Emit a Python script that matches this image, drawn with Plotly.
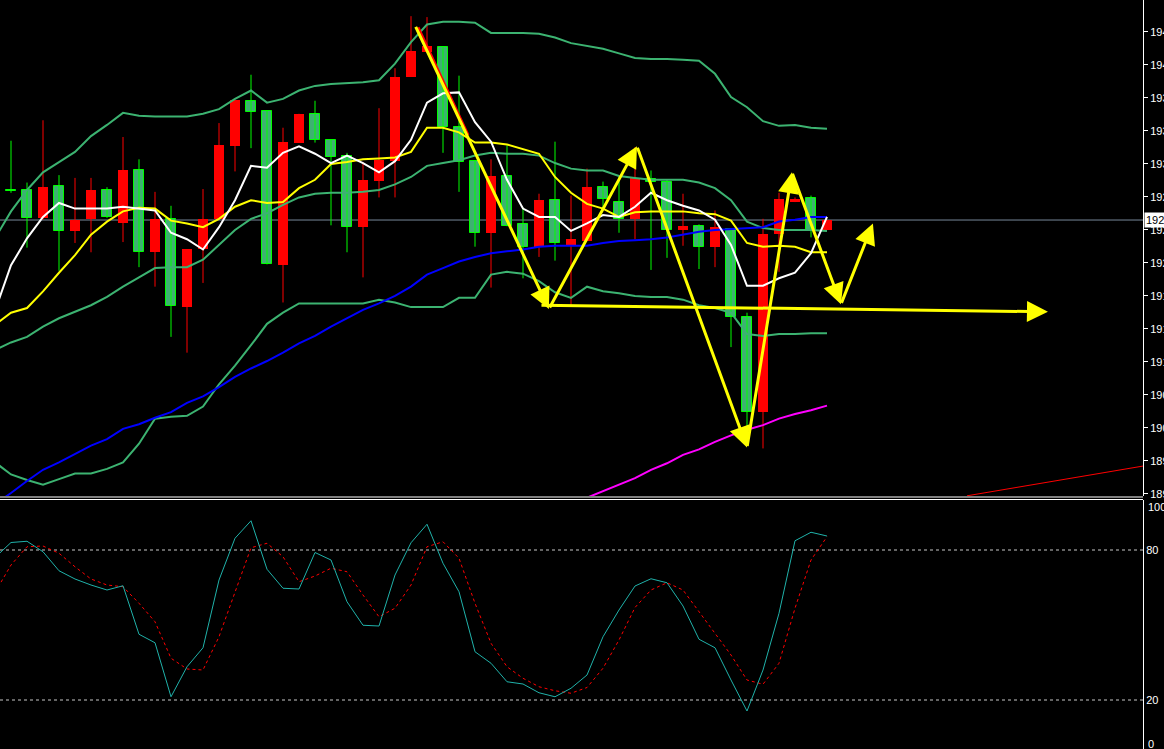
import plotly.graph_objects as go

# ---------------- data ----------------
K = list(range(53))  # bar index

OPEN = [1917.7, 1928.5, 1928.5, 1925.5, 1928.9, 1924.1, 1925.4, 1928.5, 1924.9, 1930.6,
        1921.8, 1925.4, 1915.9, 1922.1, 1925.4, 1933.2, 1938.1, 1937.0, 1920.4, 1933.6,
        1936.7, 1933.9, 1932.2, 1924.5, 1929.5, 1931.6, 1940.7, 1943.3, 1943.9, 1935.3,
        1931.6, 1923.9, 1930.0, 1924.8, 1922.4, 1927.4, 1922.6, 1923.0, 1928.8, 1927.2,
        1925.4, 1929.7, 1929.4, 1924.2, 1924.6, 1922.4, 1924.3, 1914.8, 1904.6, 1923.8,
        1927.3, 1927.6, 1924.2]
HIGH = [1929.0, 1933.8, 1929.3, 1936.0, 1930.1, 1929.8, 1929.8, 1928.8, 1934.2, 1931.8,
        1928.3, 1926.8, 1922.1, 1928.6, 1935.7, 1938.2, 1940.9, 1937.0, 1935.2, 1936.7,
        1938.1, 1933.9, 1932.5, 1931.5, 1937.3, 1941.6, 1947.2, 1947.1, 1943.9, 1940.8,
        1931.6, 1931.8, 1933.3, 1926.6, 1928.1, 1933.7, 1927.9, 1930.8, 1929.4, 1929.9,
        1933.1, 1930.6, 1929.6, 1928.1, 1924.8, 1926.3, 1924.3, 1915.3, 1925.4, 1928.2,
        1927.7, 1927.9, 1925.3]
LOW = [1917.2, 1928.2, 1922.3, 1925.3, 1919.8, 1922.8, 1921.8, 1925.5, 1922.9, 1920.2,
       1918.1, 1912.7, 1911.0, 1918.5, 1925.4, 1930.5, 1933.0, 1920.5, 1916.4, 1933.6,
       1933.6, 1924.7, 1921.8, 1919.1, 1927.7, 1927.7, 1940.7, 1943.3, 1932.5, 1928.3,
       1922.4, 1918.0, 1924.6, 1919.0, 1921.3, 1920.9, 1916.1, 1923.0, 1926.3, 1923.9,
       1923.2, 1919.9, 1921.2, 1922.5, 1920.0, 1920.2, 1911.6, 1902.4, 1900.7, 1919.7,
       1927.2, 1923.4, 1924.2]
CLOSE = [1928.5, 1928.4, 1925.5, 1928.8, 1924.1, 1925.3, 1928.5, 1925.6, 1930.6, 1921.8,
         1925.4, 1916.0, 1922.1, 1925.4, 1933.3, 1938.2, 1936.9, 1920.5, 1933.7, 1936.7,
         1933.9, 1932.0, 1924.5, 1929.6, 1931.7, 1940.7, 1943.5, 1944.0, 1935.3, 1931.5,
         1923.9, 1930.0, 1924.6, 1922.4, 1927.4, 1922.8, 1923.2, 1928.8, 1927.5, 1925.4,
         1929.8, 1929.4, 1924.2, 1924.6, 1922.4, 1924.5, 1914.8, 1904.6, 1923.8, 1927.5,
         1927.5, 1924.2, 1925.3]

BB_UPPER = [1923.3, 1926.2, 1928.5, 1930.4, 1931.5, 1932.6, 1934.3, 1935.5, 1936.8, 1936.5,
            1936.4, 1936.4, 1936.4, 1936.7, 1937.2, 1938.3, 1939.2, 1937.9, 1938.3, 1939.2,
            1939.7, 1939.9, 1940.0, 1940.1, 1940.3, 1942.1, 1944.4, 1946.3, 1946.6, 1946.6,
            1946.5, 1945.4, 1945.4, 1945.4, 1945.3, 1944.9, 1944.3, 1944.0, 1943.7, 1943.2,
            1942.7, 1942.6, 1942.6, 1942.5, 1942.4, 1941.0, 1938.5, 1937.4, 1935.9, 1935.4,
            1935.5, 1935.2, 1935.1]
BB_MID = [1911.3, 1912.1, 1912.7, 1913.8, 1914.7, 1915.4, 1916.1, 1917.0, 1918.1, 1919.1,
          1920.1, 1920.2, 1920.2, 1921.0, 1922.6, 1924.2, 1925.4, 1926.0, 1926.9, 1927.7,
          1928.1, 1928.2, 1928.2, 1928.3, 1928.5, 1929.1, 1929.9, 1931.1, 1931.4, 1931.7,
          1932.2, 1932.5, 1932.4, 1932.4, 1932.2, 1931.4, 1930.8, 1930.6, 1930.6, 1930.0,
          1929.8, 1929.6, 1929.6, 1929.6, 1929.3, 1928.7, 1927.4, 1925.1, 1924.4, 1924.2,
          1924.2, 1924.2, 1924.1]
BB_LOWER = [1899.2, 1897.9, 1897.3, 1896.8, 1897.4, 1898.0, 1898.0, 1898.5, 1899.2, 1901.2,
            1903.9, 1904.1, 1904.2, 1905.2, 1907.6, 1909.6, 1911.8, 1914.1, 1915.3, 1916.3,
            1916.3, 1916.3, 1916.3, 1916.3, 1916.7, 1916.4, 1915.9, 1915.9, 1915.9, 1916.9,
            1916.9, 1919.4, 1919.7, 1919.5, 1918.7, 1917.5, 1916.9, 1918.1, 1917.6, 1917.4,
            1917.1, 1917.0, 1917.0, 1916.7, 1916.1, 1915.8, 1915.3, 1913.0, 1912.8, 1913.0,
            1913.0, 1913.1, 1913.1]
MA_FAST = [1915.5, 1920.4, 1923.3, 1925.6, 1927.1, 1926.5, 1926.5, 1926.5, 1926.7, 1926.5,
           1926.3, 1923.9, 1923.2, 1922.1, 1924.5, 1927.4, 1931.1, 1930.9, 1932.5, 1933.2,
           1932.4, 1931.4, 1932.2, 1931.4, 1930.4, 1931.6, 1933.9, 1937.9, 1938.9, 1939.0,
           1935.8, 1933.7, 1929.6, 1926.5, 1925.6, 1925.6, 1924.1, 1924.9, 1925.8, 1925.6,
           1926.7, 1928.2, 1927.4, 1926.8, 1926.3, 1925.3, 1922.6, 1918.2, 1918.2, 1919.0,
           1919.6, 1921.7, 1925.6]
MA_MID = [1914.0, 1915.3, 1915.8, 1917.6, 1919.6, 1921.5, 1923.7, 1925.1, 1926.2, 1926.6,
          1926.5, 1925.2, 1924.9, 1924.5, 1925.4, 1926.7, 1927.4, 1927.1, 1927.2, 1928.7,
          1929.6, 1931.3, 1931.5, 1931.8, 1931.9, 1932.0, 1932.6, 1935.2, 1935.2, 1934.7,
          1933.6, 1933.6, 1933.4, 1932.9, 1932.4, 1929.9, 1928.2, 1927.0, 1926.5, 1925.6,
          1926.1, 1926.2, 1926.2, 1926.2, 1926.0, 1925.9, 1925.2, 1922.8, 1922.4, 1922.5,
          1922.4, 1921.8, 1921.8]
MA_SLOW = [1894.7, 1895.9, 1897.2, 1898.4, 1899.2, 1900.1, 1901.0, 1901.7, 1902.8, 1903.3,
           1904.0, 1904.6, 1905.6, 1906.3, 1907.3, 1908.4, 1909.3, 1910.1, 1911.0, 1912.0,
           1912.8, 1913.8, 1914.7, 1915.6, 1916.3, 1917.1, 1918.1, 1919.4, 1920.1, 1920.8,
           1921.3, 1921.7, 1921.9, 1922.1, 1922.4, 1922.5, 1922.5, 1922.5, 1922.8, 1923.0,
           1923.1, 1923.2, 1923.4, 1923.7, 1924.0, 1924.2, 1924.3, 1924.4, 1924.5, 1925.1,
           1925.3, 1925.6, 1925.6]
MA_LONG_K = list(range(36, 53))
MA_LONG = [1894.7, 1895.4, 1896.1, 1896.8, 1897.5, 1898.4, 1899.1, 1900.0, 1900.6, 1901.4,
           1902.1, 1902.7, 1903.2, 1903.9, 1904.4, 1904.8, 1905.3]

STOCH_MAIN = [77.0, 83.0, 83.5, 79.3, 71.7, 68.4, 66.0, 64.0, 65.7, 46.3, 42.9, 21.3, 33.3,
              40.9, 68.0, 84.7, 91.7, 72.3, 64.7, 64.4, 79.0, 76.0, 59.3, 49.9, 49.6, 70.0,
              82.9, 90.3, 74.7, 63.3, 39.3, 34.7, 27.3, 26.4, 22.9, 21.3, 24.7, 30.0, 45.3,
              56.0, 65.6, 68.5, 66.9, 57.6, 44.3, 40.9, 28.0, 15.6, 32.0, 54.7, 83.7, 87.1, 85.6]
STOCH_SIGNAL = [63.0, 74.0, 81.3, 81.6, 78.7, 73.3, 68.4, 66.0, 65.3, 58.7, 51.3, 36.7, 32.4,
                32.0, 45.3, 63.3, 80.9, 82.7, 77.3, 67.3, 69.6, 72.7, 71.3, 62.0, 53.3, 56.7,
                66.0, 81.3, 83.3, 76.7, 58.7, 42.7, 33.3, 28.7, 25.3, 23.7, 22.7, 25.0, 32.7,
                44.0, 57.0, 64.0, 66.9, 64.0, 55.3, 46.7, 38.0, 28.0, 26.3, 34.7, 56.7, 76.0, 85.3]
STOCH_LEVELS = [80, 20]

PRICE_TICKS = [1945.50, 1941.95, 1938.40, 1934.85, 1931.30, 1927.75, 1924.20, 1920.65,
               1917.10, 1913.55, 1910.00, 1906.45, 1902.90, 1899.35, 1895.80]
BID = 1925.27

# hand-drawn objects (bar index, price)
ZIGZAG_K = [26.25, 34.62, 40.12, 47.0, 49.81, 52.87, 54.87]
ZIGZAG_P = [1946.2, 1915.7, 1933.2, 1900.8, 1930.4, 1916.2, 1924.9]
HLINE_K = [34.06, 65.81]
HLINE_P = [1916.1, 1915.4]
RED_TREND_K = [60.75, 71.75]
RED_TREND_P = [1895.6, 1898.8]
RED_SEG_K = [26.44, 29.56]
RED_SEG_P = [1946.0, 1934.4]

# ---------------- figure ----------------
fig = go.Figure()

RED = "#ff0000"
GREEN_FILL = "#3cb371"
GREEN_EDGE = "#00ff00"

up = [i for i in K if CLOSE[i] >= OPEN[i]]
dn = [i for i in K if CLOSE[i] < OPEN[i]]


def wick_xy(idx):
    xs, ys = [], []
    for i in idx:
        xs += [K[i], K[i], None]
        ys += [LOW[i], HIGH[i], None]
    return xs, ys


for idx, col in ((up, RED), (dn, GREEN_EDGE)):
    wx, wy = wick_xy(idx)
    fig.add_trace(go.Scatter(x=wx, y=wy, mode="lines", line=dict(color=col, width=1),
                             hoverinfo="skip", showlegend=False, xaxis="x", yaxis="y"))

for idx, fill, edge, lw in ((up, RED, RED, 0), (dn, GREEN_FILL, GREEN_EDGE, 1)):
    fig.add_trace(go.Bar(
        x=[K[i] for i in idx],
        base=[min(OPEN[i], CLOSE[i]) for i in idx],
        y=[max(abs(CLOSE[i] - OPEN[i]), 0.12) for i in idx],
        width=0.66,
        marker=dict(color=fill, line=dict(color=edge, width=lw)),
        showlegend=False, xaxis="x", yaxis="y"))

for ys, col in ((BB_UPPER, GREEN_FILL), (BB_MID, GREEN_FILL), (BB_LOWER, GREEN_FILL),
                (MA_SLOW, "#0000ff")):
    fig.add_trace(go.Scatter(x=K, y=ys, mode="lines", line=dict(color=col, width=2),
                             showlegend=False, xaxis="x", yaxis="y"))
fig.add_trace(go.Scatter(x=MA_LONG_K, y=MA_LONG, mode="lines",
                         line=dict(color="#ff00ff", width=2),
                         showlegend=False, xaxis="x", yaxis="y"))
fig.add_trace(go.Scatter(x=K, y=MA_MID, mode="lines", line=dict(color="#ffff00", width=2),
                         showlegend=False, xaxis="x", yaxis="y"))
fig.add_trace(go.Scatter(x=K, y=MA_FAST, mode="lines", line=dict(color="#ffffff", width=2),
                         showlegend=False, xaxis="x", yaxis="y"))
fig.add_trace(go.Scatter(x=RED_TREND_K, y=RED_TREND_P, mode="lines",
                         line=dict(color=RED, width=1), showlegend=False,
                         xaxis="x", yaxis="y"))
fig.add_trace(go.Scatter(x=RED_SEG_K, y=RED_SEG_P, mode="lines",
                         line=dict(color=RED, width=3), showlegend=False,
                         xaxis="x", yaxis="y"))

# stochastic panel
fig.add_trace(go.Scatter(x=K, y=STOCH_SIGNAL, mode="lines",
                         line=dict(color=RED, width=1, dash="3px,3px"),
                         showlegend=False, xaxis="x2", yaxis="y2"))
fig.add_trace(go.Scatter(x=K, y=STOCH_MAIN, mode="lines",
                         line=dict(color="#20b2aa", width=1),
                         showlegend=False, xaxis="x2", yaxis="y2"))

H = 749
TOP_DOM = [(H - 496) / H, 1.0]
BOT_DOM = [0.0, (H - 500) / H]
XR = [0.3125, 71.75]

shapes = []
for lv in STOCH_LEVELS:
    shapes.append(dict(type="line", xref="paper", x0=0, x1=1, yref="y2", y0=lv, y1=lv,
                       line=dict(color="#c8c8c8", width=1, dash="3px,3px"), layer="below"))
shapes.append(dict(type="line", xref="paper", x0=0, x1=1, yref="y", y0=BID, y1=BID,
                   line=dict(color="#778899", width=1), layer="below"))
for yp in (497, 499.5):
    shapes.append(dict(type="line", xref="paper", x0=0, x1=1, yref="paper",
                       y0=(H - yp) / H, y1=(H - yp) / H,
                       line=dict(color="#ffffff", width=1)))

annotations = []
for i in range(len(ZIGZAG_K) - 1):
    annotations.append(dict(x=ZIGZAG_K[i + 1], y=ZIGZAG_P[i + 1], ax=ZIGZAG_K[i], ay=ZIGZAG_P[i],
                            xref="x", yref="y", axref="x", ayref="y", text="",
                            showarrow=True, arrowhead=2, arrowsize=1.4, arrowwidth=3,
                            arrowcolor="#ffff00", standoff=0, startstandoff=0))
annotations.append(dict(x=HLINE_K[1], y=HLINE_P[1], ax=HLINE_K[0], ay=HLINE_P[0],
                        xref="x", yref="y", axref="x", ayref="y", text="",
                        showarrow=True, arrowhead=2, arrowsize=1.4, arrowwidth=3,
                        arrowcolor="#ffff00", standoff=0))
annotations.append(dict(x=1, xref="paper", y=BID, yref="y", xanchor="left", yanchor="middle",
                        xshift=1, text="1925.27", showarrow=False, bgcolor="#ffffff",
                        borderpad=1, font=dict(color="#000000", size=11,
                                               family="Liberation Sans")))
for val, lab in ((97.2, "100"), (2.4, "0")):
    annotations.append(dict(x=1, xref="paper", y=val, yref="y2", xanchor="left",
                            yanchor="middle", xshift=3, text=lab, showarrow=False,
                            font=dict(color="#ffffff", size=11, family="Liberation Sans")))

tickfont = dict(color="#ffffff", size=11, family="Liberation Sans")

fig.update_layout(
    width=1164, height=H,
    margin=dict(l=0, r=21, t=0, b=0, autoexpand=False),
    paper_bgcolor="#000000", plot_bgcolor="#000000",
    barmode="overlay", bargap=0,
    showlegend=False,
    xaxis=dict(domain=[0, 1], range=XR, anchor="y", visible=False, showgrid=False,
               automargin=False),
    xaxis2=dict(domain=[0, 1], range=XR, anchor="y2", matches="x", visible=False,
                showgrid=False, automargin=False),
    yaxis=dict(domain=TOP_DOM, range=[1895.58, 1948.94], side="right", anchor="x",
               automargin=False,
               showgrid=False, zeroline=False, showline=True, linecolor="#ffffff",
               linewidth=1, ticks="outside", ticklen=4, tickcolor="#ffffff",
               tickvals=PRICE_TICKS, ticktext=["%.2f" % v for v in PRICE_TICKS],
               tickfont=tickfont),
    yaxis2=dict(domain=BOT_DOM, range=[0.4, 100], side="right", anchor="x2",
                automargin=False,
                showgrid=False, zeroline=False, showline=True, linecolor="#ffffff",
                linewidth=1, ticks="", tickvals=STOCH_LEVELS,
                ticktext=[str(v) for v in STOCH_LEVELS], tickfont=tickfont),
    shapes=shapes,
    annotations=annotations,
)

fig.write_html("out.html", config={"displayModeBar": False},
               post_script="document.body.style.margin='0';document.body.style.overflow='hidden';")
